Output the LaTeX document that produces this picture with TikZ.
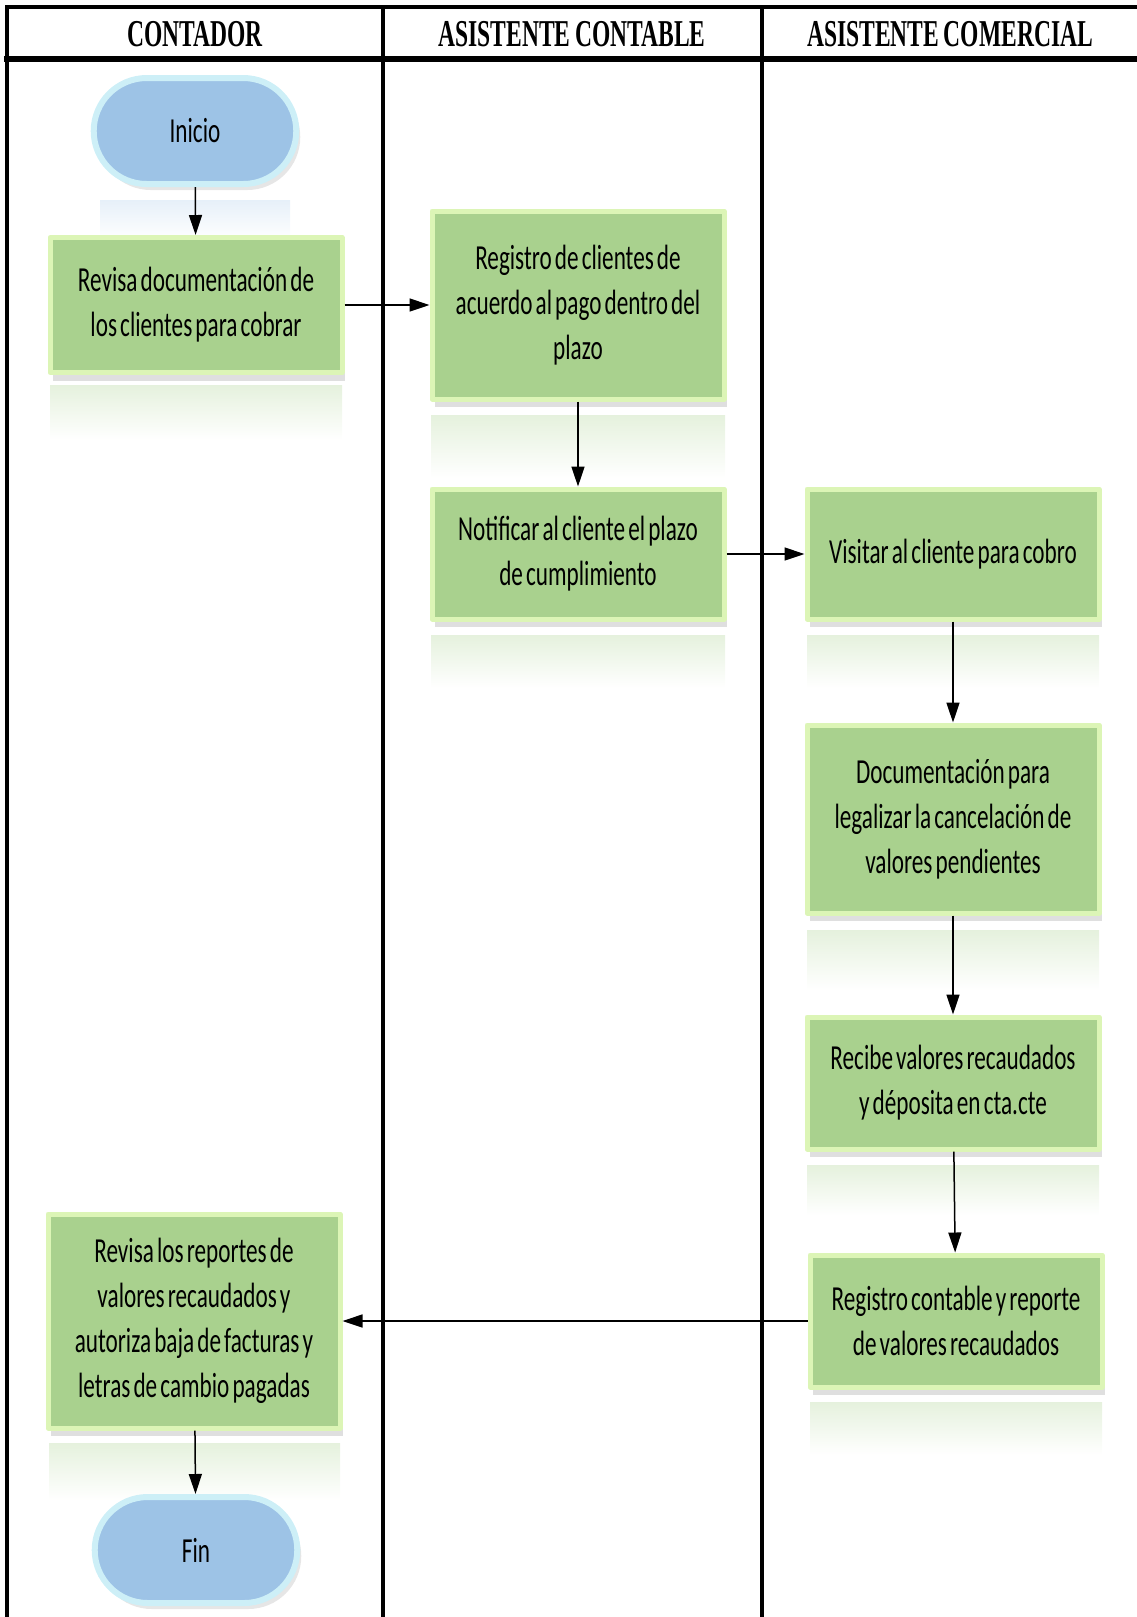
\documentclass[tikz,border=0pt]{standalone}
\usepackage{fontspec}
\setmainfont[FakeStretch=0.66, WordSpace=0.6]{Carlito}
\newfontfamily\headfont[FakeStretch=0.62, WordSpace=0.8]{Liberation Serif}
\usetikzlibrary{arrows.meta,shapes.misc,shadows}
\definecolor{boxgreen}{HTML}{A9D18E}
\definecolor{bevelgreen}{HTML}{DCF5B6}
\definecolor{termblue}{HTML}{9DC3E6}
\definecolor{termglow}{HTML}{CDEFF7}
\tikzset{
	lane/.style={line width=0.4mm, line cap=rect},
	lanehead/.style={font=\headfont\bfseries\fontsize{10.8}{12}\selectfont},
	procbox/.style={rectangle, fill=boxgreen, draw=bevelgreen, line width=0.5mm,
		minimum width=29.2mm, align=center, inner sep=1mm,
		drop shadow={shadow xshift=0.3mm, shadow yshift=-0.8mm, opacity=0.25}},
	termbox/.style={rounded rectangle, fill=termblue, draw=termglow, line width=0.6mm,
		minimum width=22.6mm, minimum height=10.6mm,
		drop shadow={shadow xshift=0.4mm, shadow yshift=-0.6mm, opacity=0.2}},
	reflect/.style={top color=boxgreen!30, bottom color=white}
}
\begin{document}
\begin{tikzpicture}[x=0.1mm, y=0.1mm, font=\fontsize{10}{12.8}\selectfont, line join=round, >={Triangle[length=2mm,width=1.3mm]}]
	\useasboundingbox (0,0) rectangle (1137,-1617);
	%%%%%%%%%%%%%%%%%%%%%%%%%%%%%%%%%
	\coordinate (Ini) at (195,-131);
	\coordinate (Rev) at (196,-305);
	\coordinate (Reg) at (578,-305);
	\coordinate (Not) at (578,-554);
	\coordinate (Vis) at (953,-554);
	\coordinate (Doc) at (953,-819);
	\coordinate (Rec) at (953,-1083);
	\coordinate (Rcon) at (956,-1321);
	\coordinate (Rrep) at (194,-1321);
	\coordinate (Fin) at (196,-1550);
	%%%%%%%%%%%%%%%%%%%%%%%%%%%%%%%%%
	\draw[lane] (7,-7) -- (1137,-7);
	\draw[lane, line width=0.55mm] (7,-59) -- (1137,-59);
	\draw[lane] (7,-7) -- (7,-1617);
	\draw[lane] (383,-7) -- (383,-1617);
	\draw[lane] (762,-7) -- (762,-1617);
	\node[lanehead] (hcont) at (195,-34) {CONTADOR};
	\node[lanehead] (hasc) at (572,-34) {ASISTENTE CONTABLE};
	\node[lanehead] (hacom) at (950,-34) {ASISTENTE COMERCIAL};
	%%%%%%%%%%%%%%%%%%%%%%%%%%%%%%%%%
	\shade[top color=termblue!25, bottom color=white] (100,-200) rectangle (290,-240);
	\shade[reflect] (50,-385) rectangle (342,-440);
	\shade[reflect] (431,-415) rectangle (725,-478);
	\shade[reflect] (431,-635) rectangle (725,-688);
	\shade[reflect] (807,-635) rectangle (1099,-688);
	\shade[reflect] (807,-930) rectangle (1099,-990);
	\shade[reflect] (807,-1165) rectangle (1099,-1215);
	\shade[reflect] (810,-1402) rectangle (1102,-1455);
	\shade[reflect] (49,-1443) rectangle (340,-1500);
	%%%%%%%%%%%%%%%%%%%%%%%%%%%%%%%%%
	\node[termbox] (ini) at (Ini) {Inicio};
	\node[procbox, minimum height=13.5mm] (rev) at (Rev) {Revisa documentación de\\los clientes para cobrar};
	\node[procbox, minimum height=18.8mm] (reg) at (Reg) {Registro de clientes de\\acuerdo al pago dentro del\\plazo};
	\node[procbox, minimum height=13mm] (not) at (Not) {Notificar al cliente el plazo\\de cumplimiento};
	\node[procbox, minimum height=13mm] (vis) at (Vis) {Visitar al cliente para cobro};
	\node[procbox, minimum height=18.8mm] (doc) at (Doc) {Documentación para\\legalizar la cancelación de\\valores pendientes};
	\node[procbox, minimum height=13.2mm] (rec) at (Rec) {Recibe valores recaudados\\y déposita en cta.cte};
	\node[procbox, minimum height=13.2mm] (rcon) at (Rcon) {Registro contable y reporte\\de valores recaudados};
	\node[procbox, minimum height=21.4mm] (rrep) at (Rrep) {Revisa los reportes de\\valores recaudados y\\autoriza baja de facturas y\\letras de cambio pagadas};
	\node[termbox] (fin) at (Fin) {Fin};
	%%%%%%%%%%%%%%%%%%%%%%%%%%%%%%%%%
	\begin{scope}[line width=0.15mm]
		\draw[->] (ini) -- (rev);
		\draw[->] (rev) -- (reg);
		\draw[->] (reg) -- (not);
		\draw[->] (not) -- (vis);
		\draw[->] (vis) -- (doc);
		\draw[->] (doc) -- (rec);
		\draw[->] (rec) -- (rcon);
		\draw[->] (rcon) -- (rrep);
		\draw[->] (rrep) -- (fin);
	\end{scope}
	%%%%%%%%%%%%%%%%%%%%%%%%%%%%%%%%%
\end{tikzpicture}
\end{document}
